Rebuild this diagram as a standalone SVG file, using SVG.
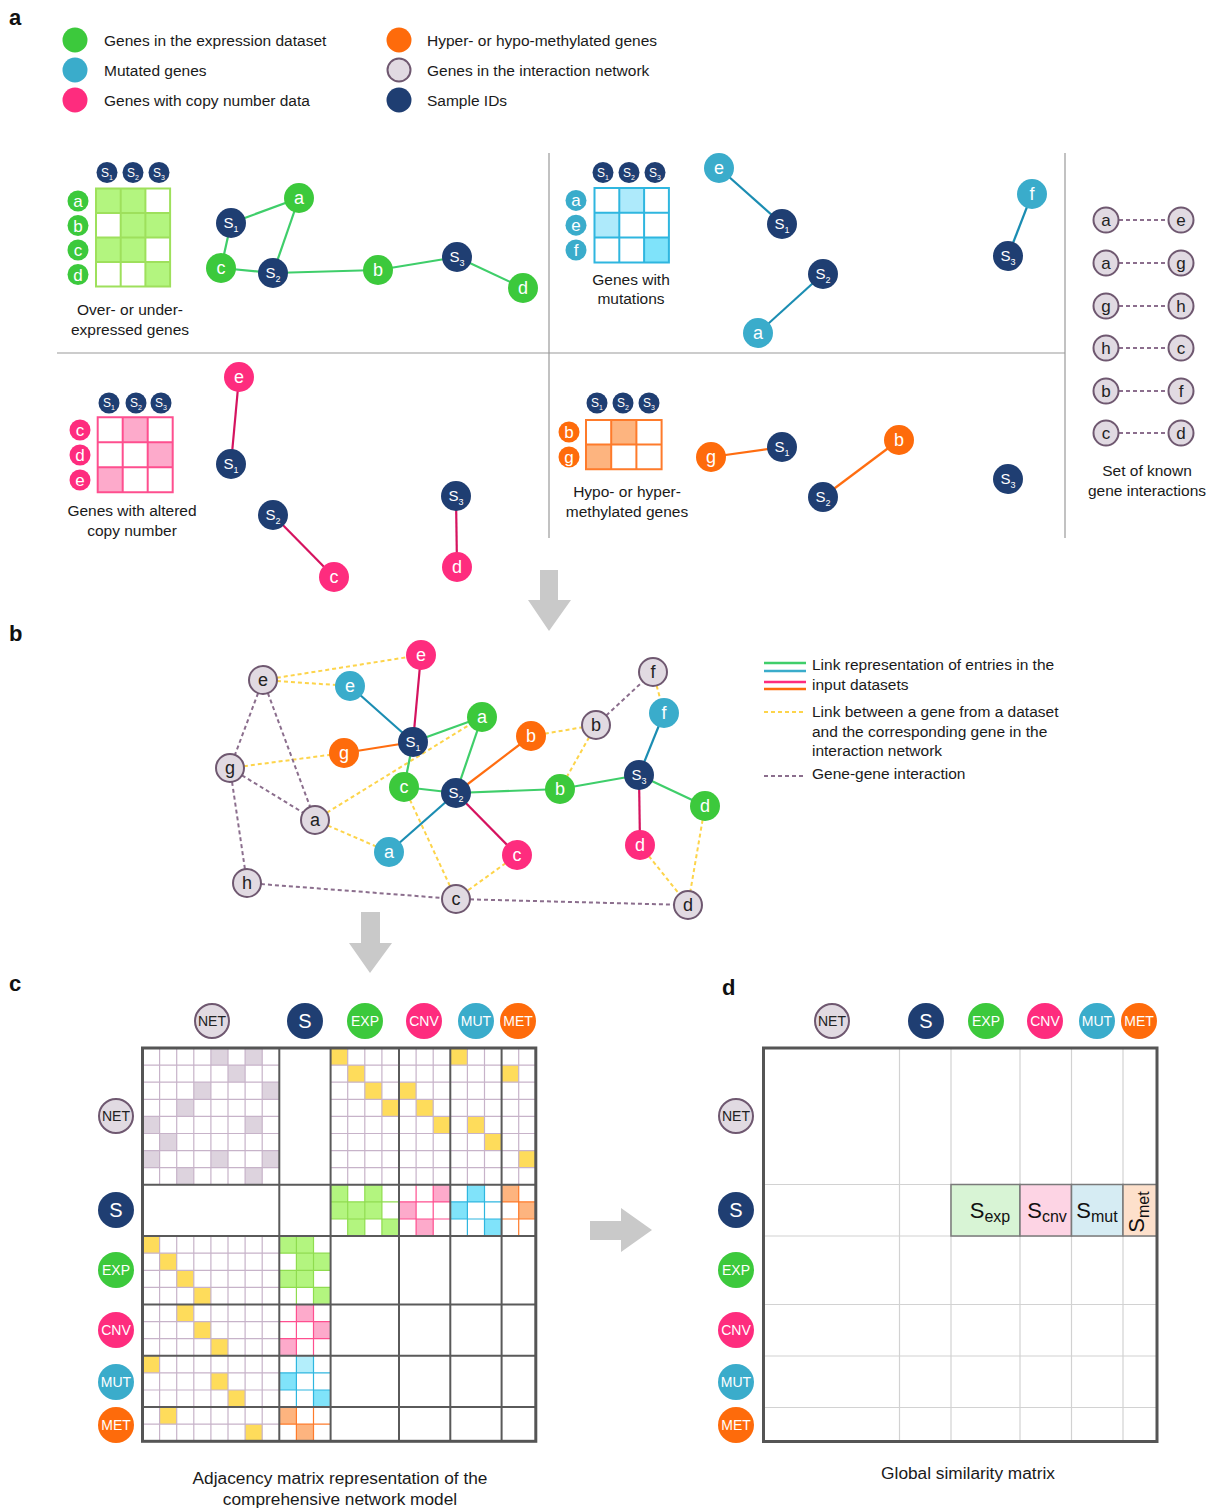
<svg xmlns="http://www.w3.org/2000/svg" width="1210" height="1509" viewBox="0 0 1210 1509">
<style>
text{font-family:"Liberation Sans",Arial,sans-serif}
.g{fill:#3cc93c}.b{fill:#3aaccb}.p{fill:#fe2c7e}.o{fill:#fe6b0b}.n{fill:#1f3e72}
.l{fill:#e1dae2;stroke:#6f5870;stroke-width:2}
.w{fill:#fff;text-anchor:middle}
.k{fill:#222;text-anchor:middle}
.t{fill:#1a1a1a;font-size:15.5px}
.c{fill:#1a1a1a;font-size:15.5px;text-anchor:middle}
.cb{fill:#1a1a1a;font-size:17.3px;text-anchor:middle}
.lab{font-weight:bold;font-size:22px;fill:#111}
.eg{stroke:#3fce6a;stroke-width:2.2;fill:none}
.eb{stroke:#1b8db2;stroke-width:2.2;fill:none}
.ep{stroke:#d5135f;stroke-width:2.2;fill:none}
.eo{stroke:#ff6d10;stroke-width:2.2;fill:none}
.ey{stroke:#fdd44a;stroke-width:2;stroke-dasharray:4 3;fill:none}
.eu{stroke:#8b6e8d;stroke-width:2;stroke-dasharray:4 3;fill:none}
.div{stroke:#999;stroke-width:1.2}
.arr{fill:#c9c9c9}
</style>

<!-- panel labels -->
<text class="lab" x="9" y="25">a</text>
<text class="lab" x="9" y="641">b</text>
<text class="lab" x="9" y="991">c</text>
<text class="lab" x="722" y="995">d</text>

<!-- top legend -->
<g id="legend-a">
<circle class="g" cx="75" cy="40" r="12.5"/><text class="t" x="104" y="46">Genes in the expression dataset</text>
<circle class="b" cx="75" cy="70" r="12.5"/><text class="t" x="104" y="76">Mutated genes</text>
<circle class="p" cx="75" cy="100" r="12.5"/><text class="t" x="104" y="106">Genes with copy number data</text>
<circle class="o" cx="399" cy="40" r="12.5"/><text class="t" x="427" y="46">Hyper- or hypo-methylated genes</text>
<circle class="l" cx="399" cy="70" r="11.5"/><text class="t" x="427" y="76">Genes in the interaction network</text>
<circle class="n" cx="399" cy="100" r="12.5"/><text class="t" x="427" y="106">Sample IDs</text>
</g>

<!-- panel a dividers -->
<g id="dividers">
<line class="div" x1="57" y1="353" x2="1065" y2="353"/>
<line class="div" x1="549" y1="153" x2="549" y2="538"/>
<line class="div" x1="1065" y1="153" x2="1065" y2="538"/>
</g>

<!-- EXP matrix -->
<g id="exp-matrix">
<g fill="#b3f57f">
<rect x="96" y="188.5" width="24.7" height="24.5"/><rect x="120.7" y="188.5" width="24.7" height="24.5"/>
<rect x="120.7" y="213" width="24.7" height="24.5"/><rect x="145.4" y="213" width="24.7" height="24.5"/>
<rect x="96" y="237.5" width="24.7" height="24.5"/><rect x="120.7" y="237.5" width="24.7" height="24.5"/>
<rect x="145.4" y="262" width="24.7" height="24.5"/>
</g>
<path d="M96 188.5H170.1V286.5H96Z M120.7 188.5V286.5 M145.4 188.5V286.5 M96 213H170.1 M96 237.5H170.1 M96 262H170.1" stroke="#9ee05c" stroke-width="2" fill="none"/>
<g font-size="12"><circle class="n" cx="107" cy="172.5" r="10.5"/><text class="w" x="107" y="176.5">S<tspan font-size="7" dy="3">1</tspan></text>
<circle class="n" cx="133" cy="172.5" r="10.5"/><text class="w" x="133" y="176.5">S<tspan font-size="7" dy="3">2</tspan></text>
<circle class="n" cx="159" cy="172.5" r="10.5"/><text class="w" x="159" y="176.5">S<tspan font-size="7" dy="3">3</tspan></text></g>
<g font-size="17"><circle class="g" cx="78" cy="201" r="10.5"/><text class="w" x="78" y="207">a</text>
<circle class="g" cx="78" cy="225.5" r="10.5"/><text class="w" x="78" y="231.5">b</text>
<circle class="g" cx="78" cy="250" r="10.5"/><text class="w" x="78" y="256">c</text>
<circle class="g" cx="78" cy="274.5" r="10.5"/><text class="w" x="78" y="280.5">d</text></g>
<text class="c" x="130" y="315">Over- or under-</text>
<text class="c" x="130" y="335">expressed genes</text>
</g>

<!-- MUT matrix -->
<g id="mut-matrix">
<rect x="619.3" y="188" width="24.8" height="24.8" fill="#aeeafb"/>
<rect x="594.5" y="212.8" width="24.8" height="24.8" fill="#aeeafb"/>
<rect x="644.1" y="237.6" width="24.8" height="24.8" fill="#7fe3fa"/>
<path d="M594.5 188H668.9V262.4H594.5Z M619.3 188V262.4 M644.1 188V262.4 M594.5 212.8H668.9 M594.5 237.6H668.9" stroke="#2fb6df" stroke-width="2" fill="none"/>
<g font-size="12"><circle class="n" cx="603" cy="172.5" r="10.5"/><text class="w" x="603" y="176.5">S<tspan font-size="7" dy="3">1</tspan></text>
<circle class="n" cx="629" cy="172.5" r="10.5"/><text class="w" x="629" y="176.5">S<tspan font-size="7" dy="3">2</tspan></text>
<circle class="n" cx="655" cy="172.5" r="10.5"/><text class="w" x="655" y="176.5">S<tspan font-size="7" dy="3">3</tspan></text></g>
<g font-size="17"><circle class="b" cx="576" cy="200.4" r="10.5"/><text class="w" x="576" y="206.4">a</text>
<circle class="b" cx="576" cy="225.2" r="10.5"/><text class="w" x="576" y="231.2">e</text>
<circle class="b" cx="576" cy="250" r="10.5"/><text class="w" x="576" y="256">f</text></g>
<text class="c" x="631" y="285">Genes with</text>
<text class="c" x="631" y="304">mutations</text>
</g>

<!-- CNV matrix -->
<g id="cnv-matrix">
<rect x="122.7" y="417.3" width="25" height="25" fill="#fdaacb"/>
<rect x="147.7" y="442.3" width="25" height="25" fill="#fdaacb"/>
<rect x="97.7" y="467.3" width="25" height="25" fill="#fdaacb"/>
<path d="M97.7 417.3H172.7V492.3H97.7Z M122.7 417.3V492.3 M147.7 417.3V492.3 M97.7 442.3H172.7 M97.7 467.3H172.7" stroke="#fe4f8f" stroke-width="2" fill="none"/>
<g font-size="12"><circle class="n" cx="109" cy="403" r="10.5"/><text class="w" x="109" y="407">S<tspan font-size="7" dy="3">1</tspan></text>
<circle class="n" cx="136" cy="403" r="10.5"/><text class="w" x="136" y="407">S<tspan font-size="7" dy="3">2</tspan></text>
<circle class="n" cx="161" cy="403" r="10.5"/><text class="w" x="161" y="407">S<tspan font-size="7" dy="3">3</tspan></text></g>
<g font-size="17"><circle class="p" cx="80" cy="430" r="10.5"/><text class="w" x="80" y="436">c</text>
<circle class="p" cx="80" cy="455" r="10.5"/><text class="w" x="80" y="461">d</text>
<circle class="p" cx="80" cy="480" r="10.5"/><text class="w" x="80" y="486">e</text></g>
<text class="c" x="132" y="516">Genes with altered</text>
<text class="c" x="132" y="536">copy number</text>
</g>

<!-- MET matrix -->
<g id="met-matrix">
<rect x="611.2" y="420" width="25.2" height="24.6" fill="#fdb47f"/>
<rect x="586" y="444.6" width="25.2" height="24.6" fill="#fdb47f"/>
<path d="M586 420H661.6V469.2H586Z M611.2 420V469.2 M636.4 420V469.2 M586 444.6H661.6" stroke="#fe7b2b" stroke-width="2" fill="none"/>
<g font-size="12"><circle class="n" cx="597" cy="403" r="10.5"/><text class="w" x="597" y="407">S<tspan font-size="7" dy="3">1</tspan></text>
<circle class="n" cx="623" cy="403" r="10.5"/><text class="w" x="623" y="407">S<tspan font-size="7" dy="3">2</tspan></text>
<circle class="n" cx="649" cy="403" r="10.5"/><text class="w" x="649" y="407">S<tspan font-size="7" dy="3">3</tspan></text></g>
<g font-size="17"><circle class="o" cx="569" cy="432" r="10.5"/><text class="w" x="569" y="438">b</text>
<circle class="o" cx="569" cy="457" r="10.5"/><text class="w" x="569" y="463">g</text></g>
<text class="c" x="627" y="497">Hypo- or hyper-</text>
<text class="c" x="627" y="517">methylated genes</text>
</g>

<!-- panel a connectors -->
<g id="connectors-a">
<line class="eg" x1="231" y1="223" x2="299" y2="198"/>
<line class="eg" x1="231" y1="223" x2="221" y2="268"/>
<line class="eg" x1="299" y1="198" x2="273" y2="273"/>
<line class="eg" x1="221" y1="268" x2="273" y2="273"/>
<line class="eg" x1="273" y1="273" x2="378" y2="270"/>
<line class="eg" x1="378" y1="270" x2="457" y2="257"/>
<line class="eg" x1="457" y1="257" x2="523" y2="288"/>
<line class="eb" x1="719" y1="168" x2="782" y2="224"/>
<line class="eb" x1="823" y1="274" x2="758" y2="333"/>
<line class="eb" x1="1032" y1="194" x2="1008" y2="256"/>
<line class="ep" x1="239" y1="377" x2="231" y2="464"/>
<line class="ep" x1="273" y1="515" x2="334" y2="577"/>
<line class="ep" x1="456" y1="496" x2="457" y2="567"/>
<line class="eo" x1="711" y1="457" x2="782" y2="447"/>
<line class="eo" x1="823" y1="497" x2="899" y2="440"/>
<g class="eu"><line x1="1119" y1="220" x2="1168" y2="220"/><line x1="1119" y1="263" x2="1168" y2="263"/><line x1="1119" y1="306" x2="1168" y2="306"/><line x1="1119" y1="348" x2="1168" y2="348"/><line x1="1119" y1="391" x2="1168" y2="391"/><line x1="1119" y1="433" x2="1168" y2="433"/></g>
</g>

<!-- panel a network nodes -->
<g id="nodes-a" font-size="18">
<g id="a-exp-S1"><circle class="n" cx="231" cy="223" r="15"/><text class="w" x="231" y="228" font-size="15">S<tspan font-size="9" dy="4">1</tspan></text></g>
<g id="a-exp-a"><circle class="g" cx="299" cy="198" r="15"/><text class="w" x="299" y="204">a</text></g>
<g id="a-exp-c"><circle class="g" cx="221" cy="268" r="15"/><text class="w" x="221" y="274">c</text></g>
<g id="a-exp-S2"><circle class="n" cx="273" cy="273" r="15"/><text class="w" x="273" y="278" font-size="15">S<tspan font-size="9" dy="4">2</tspan></text></g>
<g id="a-exp-b"><circle class="g" cx="378" cy="270" r="15"/><text class="w" x="378" y="276">b</text></g>
<g id="a-exp-S3"><circle class="n" cx="457" cy="257" r="15"/><text class="w" x="457" y="262" font-size="15">S<tspan font-size="9" dy="4">3</tspan></text></g>
<g id="a-exp-d"><circle class="g" cx="523" cy="288" r="15"/><text class="w" x="523" y="294">d</text></g>

<g id="a-mut-e"><circle class="b" cx="719" cy="168" r="15"/><text class="w" x="719" y="174">e</text></g>
<g id="a-mut-S1"><circle class="n" cx="782" cy="224" r="15"/><text class="w" x="782" y="229" font-size="15">S<tspan font-size="9" dy="4">1</tspan></text></g>
<g id="a-mut-S2"><circle class="n" cx="823" cy="274" r="15"/><text class="w" x="823" y="279" font-size="15">S<tspan font-size="9" dy="4">2</tspan></text></g>
<g id="a-mut-a"><circle class="b" cx="758" cy="333" r="15"/><text class="w" x="758" y="339">a</text></g>
<g id="a-mut-f"><circle class="b" cx="1032" cy="194" r="15"/><text class="w" x="1032" y="200">f</text></g>
<g id="a-mut-S3"><circle class="n" cx="1008" cy="256" r="15"/><text class="w" x="1008" y="261" font-size="15">S<tspan font-size="9" dy="4">3</tspan></text></g>

<g id="a-cnv-e"><circle class="p" cx="239" cy="377" r="15"/><text class="w" x="239" y="383">e</text></g>
<g id="a-cnv-S1"><circle class="n" cx="231" cy="464" r="15"/><text class="w" x="231" y="469" font-size="15">S<tspan font-size="9" dy="4">1</tspan></text></g>
<g id="a-cnv-S2"><circle class="n" cx="273" cy="515" r="15"/><text class="w" x="273" y="520" font-size="15">S<tspan font-size="9" dy="4">2</tspan></text></g>
<g id="a-cnv-c"><circle class="p" cx="334" cy="577" r="15"/><text class="w" x="334" y="583">c</text></g>
<g id="a-cnv-S3"><circle class="n" cx="456" cy="496" r="15"/><text class="w" x="456" y="501" font-size="15">S<tspan font-size="9" dy="4">3</tspan></text></g>
<g id="a-cnv-d"><circle class="p" cx="457" cy="567" r="15"/><text class="w" x="457" y="573">d</text></g>

<g id="a-met-g"><circle class="o" cx="711" cy="457" r="15"/><text class="w" x="711" y="463">g</text></g>
<g id="a-met-S1"><circle class="n" cx="782" cy="447" r="15"/><text class="w" x="782" y="452" font-size="15">S<tspan font-size="9" dy="4">1</tspan></text></g>
<g id="a-met-b"><circle class="o" cx="899" cy="440" r="15"/><text class="w" x="899" y="446">b</text></g>
<g id="a-met-S2"><circle class="n" cx="823" cy="497" r="15"/><text class="w" x="823" y="502" font-size="15">S<tspan font-size="9" dy="4">2</tspan></text></g>
<g id="a-met-S3"><circle class="n" cx="1008" cy="479" r="15"/><text class="w" x="1008" y="484" font-size="15">S<tspan font-size="9" dy="4">3</tspan></text></g>
</g>

<!-- known interactions -->
<g id="known-interactions" font-size="17">
<circle class="l" cx="1106" cy="220" r="12.5"/><text class="k" x="1106" y="226">a</text><circle class="l" cx="1181" cy="220" r="12.5"/><text class="k" x="1181" y="226">e</text>
<circle class="l" cx="1106" cy="263" r="12.5"/><text class="k" x="1106" y="269">a</text><circle class="l" cx="1181" cy="263" r="12.5"/><text class="k" x="1181" y="269">g</text>
<circle class="l" cx="1106" cy="306" r="12.5"/><text class="k" x="1106" y="312">g</text><circle class="l" cx="1181" cy="306" r="12.5"/><text class="k" x="1181" y="312">h</text>
<circle class="l" cx="1106" cy="348" r="12.5"/><text class="k" x="1106" y="354">h</text><circle class="l" cx="1181" cy="348" r="12.5"/><text class="k" x="1181" y="354">c</text>
<circle class="l" cx="1106" cy="391" r="12.5"/><text class="k" x="1106" y="397">b</text><circle class="l" cx="1181" cy="391" r="12.5"/><text class="k" x="1181" y="397">f</text>
<circle class="l" cx="1106" cy="433" r="12.5"/><text class="k" x="1106" y="439">c</text><circle class="l" cx="1181" cy="433" r="12.5"/><text class="k" x="1181" y="439">d</text>
<text class="c" x="1147" y="476">Set of known</text>
<text class="c" x="1147" y="496">gene interactions</text>
</g>

<!-- arrows -->
<g id="arrows">
<polygon class="arr" points="540,570 558,570 558,600 571,600 549,631 528,600 540,600"/>
<polygon class="arr" points="361,912 380,912 380,943 392,943 370,973 349,943 361,943"/>
<polygon class="arr" points="590,1221 621,1221 621,1208 652,1230 621,1252 621,1240 590,1240"/>
</g>

<!-- panel b connectors -->
<g id="connectors-b">
<line class="ey" x1="263" y1="680" x2="421" y2="655"/>
<line class="ey" x1="263" y1="680" x2="350" y2="686"/>
<line class="ey" x1="230" y1="768" x2="344" y2="753"/>
<line class="ey" x1="315" y1="820" x2="482" y2="717"/>
<line class="ey" x1="315" y1="820" x2="389" y2="852"/>
<line class="ey" x1="404" y1="787" x2="456" y2="899"/>
<line class="ey" x1="517" y1="855" x2="456" y2="899"/>
<line class="ey" x1="531" y1="736" x2="596" y2="725"/>
<line class="ey" x1="596" y1="725" x2="560" y2="789"/>
<line class="ey" x1="653" y1="672" x2="664" y2="713"/>
<line class="ey" x1="640" y1="845" x2="688" y2="905"/>
<line class="ey" x1="705" y1="806" x2="688" y2="905"/>
<line class="eu" x1="263" y1="680" x2="230" y2="768"/>
<line class="eu" x1="263" y1="680" x2="315" y2="820"/>
<line class="eu" x1="230" y1="768" x2="315" y2="820"/>
<line class="eu" x1="230" y1="768" x2="247" y2="883"/>
<line class="eu" x1="247" y1="883" x2="456" y2="899"/>
<line class="eu" x1="456" y1="899" x2="688" y2="905"/>
<line class="eu" x1="596" y1="725" x2="653" y2="672"/>
<line class="ep" x1="421" y1="655" x2="413" y2="742"/>
<line class="eb" x1="350" y1="686" x2="413" y2="742"/>
<line class="eo" x1="344" y1="753" x2="413" y2="742"/>
<line class="eg" x1="482" y1="717" x2="413" y2="742"/>
<line class="eg" x1="413" y1="742" x2="404" y2="787"/>
<line class="eg" x1="482" y1="717" x2="456" y2="793"/>
<line class="eg" x1="404" y1="787" x2="456" y2="793"/>
<line class="eo" x1="456" y1="793" x2="531" y2="736"/>
<line class="eg" x1="456" y1="793" x2="560" y2="789"/>
<line class="eb" x1="456" y1="793" x2="389" y2="852"/>
<line class="ep" x1="456" y1="793" x2="517" y2="855"/>
<line class="eg" x1="560" y1="789" x2="639" y2="775"/>
<line class="eb" x1="639" y1="775" x2="664" y2="713"/>
<line class="eg" x1="639" y1="775" x2="705" y2="806"/>
<line class="ep" x1="639" y1="775" x2="640" y2="845"/>
</g>

<!-- panel b nodes -->
<g id="nodes-b" font-size="18">
<g id="b-net-e"><circle class="l" cx="263" cy="680" r="14"/><text class="k" x="263" y="686">e</text></g>
<g id="b-cnv-e"><circle class="p" cx="421" cy="655" r="15"/><text class="w" x="421" y="661">e</text></g>
<g id="b-mut-e"><circle class="b" cx="350" cy="686" r="15"/><text class="w" x="350" y="692">e</text></g>
<g id="b-net-g"><circle class="l" cx="230" cy="768" r="14"/><text class="k" x="230" y="774">g</text></g>
<g id="b-met-g"><circle class="o" cx="344" cy="753" r="15"/><text class="w" x="344" y="759">g</text></g>
<g id="b-S1"><circle class="n" cx="413" cy="742" r="15"/><text class="w" x="413" y="747" font-size="15">S<tspan font-size="9" dy="4">1</tspan></text></g>
<g id="b-exp-a"><circle class="g" cx="482" cy="717" r="15"/><text class="w" x="482" y="723">a</text></g>
<g id="b-exp-c"><circle class="g" cx="404" cy="787" r="15"/><text class="w" x="404" y="793">c</text></g>
<g id="b-S2"><circle class="n" cx="456" cy="793" r="15"/><text class="w" x="456" y="798" font-size="15">S<tspan font-size="9" dy="4">2</tspan></text></g>
<g id="b-met-b"><circle class="o" cx="531" cy="736" r="15"/><text class="w" x="531" y="742">b</text></g>
<g id="b-net-b"><circle class="l" cx="596" cy="725" r="14"/><text class="k" x="596" y="731">b</text></g>
<g id="b-net-f"><circle class="l" cx="653" cy="672" r="14"/><text class="k" x="653" y="678">f</text></g>
<g id="b-mut-f"><circle class="b" cx="664" cy="713" r="15"/><text class="w" x="664" y="719">f</text></g>
<g id="b-S3"><circle class="n" cx="639" cy="775" r="15"/><text class="w" x="639" y="780" font-size="15">S<tspan font-size="9" dy="4">3</tspan></text></g>
<g id="b-exp-b"><circle class="g" cx="560" cy="789" r="15"/><text class="w" x="560" y="795">b</text></g>
<g id="b-exp-d"><circle class="g" cx="705" cy="806" r="15"/><text class="w" x="705" y="812">d</text></g>
<g id="b-cnv-d"><circle class="p" cx="640" cy="845" r="15"/><text class="w" x="640" y="851">d</text></g>
<g id="b-net-a"><circle class="l" cx="315" cy="820" r="14"/><text class="k" x="315" y="826">a</text></g>
<g id="b-mut-a"><circle class="b" cx="389" cy="852" r="15"/><text class="w" x="389" y="858">a</text></g>
<g id="b-cnv-c"><circle class="p" cx="517" cy="855" r="15"/><text class="w" x="517" y="861">c</text></g>
<g id="b-net-h"><circle class="l" cx="247" cy="883" r="14"/><text class="k" x="247" y="889">h</text></g>
<g id="b-net-c"><circle class="l" cx="456" cy="899" r="14"/><text class="k" x="456" y="905">c</text></g>
<g id="b-net-d"><circle class="l" cx="688" cy="905" r="14"/><text class="k" x="688" y="911">d</text></g>
</g>

<!-- panel b legend -->
<g id="legend-b">
<line x1="764" y1="663" x2="806" y2="663" stroke="#3fce6a" stroke-width="2.5"/>
<line x1="764" y1="671" x2="806" y2="671" stroke="#3aaccb" stroke-width="2.5"/>
<line x1="764" y1="682" x2="806" y2="682" stroke="#fe2c7e" stroke-width="2.5"/>
<line x1="764" y1="689" x2="806" y2="689" stroke="#fe6b0b" stroke-width="2.5"/>
<text class="t" x="812" y="670">Link representation of entries in the</text>
<text class="t" x="812" y="690">input datasets</text>
<line class="ey" x1="764" y1="712" x2="806" y2="712"/>
<text class="t" x="812" y="717">Link between a gene from a dataset</text>
<text class="t" x="812" y="737">and the corresponding gene in the</text>
<text class="t" x="812" y="756">interaction network</text>
<line class="eu" x1="764" y1="776" x2="806" y2="776"/>
<text class="t" x="812" y="779">Gene-gene interaction</text>
</g>

<!-- panel c headers -->
<g id="headers-c" font-size="14">
<g><circle class="l" cx="212" cy="1021" r="17"/><text class="k" x="212" y="1026">NET</text></g>
<g><circle class="n" cx="305" cy="1021" r="18"/><text class="w" x="305" y="1028" font-size="20">S</text></g>
<g><circle class="g" cx="365" cy="1021" r="18"/><text class="w" x="365" y="1026">EXP</text></g>
<g><circle class="p" cx="424" cy="1021" r="18"/><text class="w" x="424" y="1026">CNV</text></g>
<g><circle class="b" cx="476" cy="1021" r="18"/><text class="w" x="476" y="1026">MUT</text></g>
<g><circle class="o" cx="518" cy="1021" r="18"/><text class="w" x="518" y="1026">MET</text></g>
<g><circle class="l" cx="116" cy="1116" r="17"/><text class="k" x="116" y="1121">NET</text></g>
<g><circle class="n" cx="116" cy="1210" r="18"/><text class="w" x="116" y="1217" font-size="20">S</text></g>
<g><circle class="g" cx="116" cy="1270" r="18"/><text class="w" x="116" y="1275">EXP</text></g>
<g><circle class="p" cx="116" cy="1330" r="18"/><text class="w" x="116" y="1335">CNV</text></g>
<g><circle class="b" cx="116" cy="1382" r="18"/><text class="w" x="116" y="1387">MUT</text></g>
<g><circle class="o" cx="116" cy="1425" r="18"/><text class="w" x="116" y="1430">MET</text></g>
</g>

<!-- panel c matrix -->
<g id="adjacency-matrix">
<rect x="142.5" y="1048" width="393.3" height="393.3" fill="#fff"/>
<g fill="#ddd3de">
<rect x="210.9" y="1048" width="17.1" height="17.1"/><rect x="245.1" y="1048" width="17.1" height="17.1"/>
<rect x="228" y="1065.1" width="17.1" height="17.1"/>
<rect x="193.8" y="1082.2" width="17.1" height="17.1"/><rect x="262.2" y="1082.2" width="17.1" height="17.1"/>
<rect x="176.7" y="1099.3" width="17.1" height="17.1"/>
<rect x="142.5" y="1116.4" width="17.1" height="17.1"/><rect x="245.1" y="1116.4" width="17.1" height="17.1"/>
<rect x="159.6" y="1133.5" width="17.1" height="17.1"/>
<rect x="142.5" y="1150.6" width="17.1" height="17.1"/><rect x="210.9" y="1150.6" width="17.1" height="17.1"/><rect x="262.2" y="1150.6" width="17.1" height="17.1"/>
<rect x="176.7" y="1167.7" width="17.1" height="17.1"/><rect x="245.1" y="1167.7" width="17.1" height="17.1"/>
</g>
<g fill="#fedc5b">
<rect x="330.6" y="1048" width="17.1" height="17.1"/><rect x="347.7" y="1065.1" width="17.1" height="17.1"/><rect x="364.8" y="1082.2" width="17.1" height="17.1"/><rect x="381.9" y="1099.3" width="17.1" height="17.1"/>
<rect x="399" y="1082.2" width="17.1" height="17.1"/><rect x="416.1" y="1099.3" width="17.1" height="17.1"/><rect x="433.2" y="1116.4" width="17.1" height="17.1"/>
<rect x="450.3" y="1048" width="17.1" height="17.1"/><rect x="467.4" y="1116.4" width="17.1" height="17.1"/><rect x="484.5" y="1133.5" width="17.1" height="17.1"/>
<rect x="501.6" y="1065.1" width="17.1" height="17.1"/><rect x="518.7" y="1150.6" width="17.1" height="17.1"/>
<rect x="142.5" y="1236.1" width="17.1" height="17.1"/><rect x="159.6" y="1253.2" width="17.1" height="17.1"/><rect x="176.7" y="1270.3" width="17.1" height="17.1"/><rect x="193.8" y="1287.4" width="17.1" height="17.1"/>
<rect x="176.7" y="1304.5" width="17.1" height="17.1"/><rect x="193.8" y="1321.6" width="17.1" height="17.1"/><rect x="210.9" y="1338.7" width="17.1" height="17.1"/>
<rect x="142.5" y="1355.8" width="17.1" height="17.1"/><rect x="210.9" y="1372.9" width="17.1" height="17.1"/><rect x="228" y="1390" width="17.1" height="17.1"/>
<rect x="159.6" y="1407.1" width="17.1" height="17.1"/><rect x="245.1" y="1424.2" width="17.1" height="17.1"/>
</g>
<g fill="#b3f57f">
<rect x="330.6" y="1184.8" width="17.1" height="17.1"/><rect x="364.8" y="1184.8" width="17.1" height="17.1"/>
<rect x="330.6" y="1201.9" width="17.1" height="17.1"/><rect x="347.7" y="1201.9" width="17.1" height="17.1"/><rect x="364.8" y="1201.9" width="17.1" height="17.1"/>
<rect x="347.7" y="1219" width="17.1" height="17.1"/><rect x="381.9" y="1219" width="17.1" height="17.1"/>
<rect x="279.3" y="1236.1" width="17.1" height="17.1"/><rect x="296.4" y="1236.1" width="17.1" height="17.1"/>
<rect x="296.4" y="1253.2" width="17.1" height="17.1"/><rect x="313.5" y="1253.2" width="17.1" height="17.1"/>
<rect x="279.3" y="1270.3" width="17.1" height="17.1"/><rect x="296.4" y="1270.3" width="17.1" height="17.1"/>
<rect x="313.5" y="1287.4" width="17.1" height="17.1"/>
</g>
<g fill="#fdaacb">
<rect x="433.2" y="1184.8" width="17.1" height="17.1"/><rect x="399" y="1201.9" width="17.1" height="17.1"/><rect x="416.1" y="1219" width="17.1" height="17.1"/>
<rect x="296.4" y="1304.5" width="17.1" height="17.1"/><rect x="313.5" y="1321.6" width="17.1" height="17.1"/><rect x="279.3" y="1338.7" width="17.1" height="17.1"/>
</g>
<g fill="#80e3fa">
<rect x="467.4" y="1184.8" width="17.1" height="17.1"/><rect x="450.3" y="1201.9" width="17.1" height="17.1"/><rect x="484.5" y="1219" width="17.1" height="17.1"/>
<rect x="279.3" y="1372.9" width="17.1" height="17.1"/><rect x="313.5" y="1390" width="17.1" height="17.1"/>
</g>
<rect x="296.4" y="1355.8" width="17.1" height="17.1" fill="#b3eefb"/>
<g fill="#fdb47f">
<rect x="501.6" y="1184.8" width="17.1" height="17.1"/><rect x="518.7" y="1201.9" width="17.1" height="17.1"/>
<rect x="279.3" y="1407.1" width="17.1" height="17.1"/><rect x="296.4" y="1424.2" width="17.1" height="17.1"/>
</g>
<path stroke="#c7b3c9" stroke-width="1.2" fill="none" d="M159.6 1048V1184.8M176.7 1048V1184.8M193.8 1048V1184.8M210.9 1048V1184.8M228 1048V1184.8M245.1 1048V1184.8M262.2 1048V1184.8
M159.6 1236.1V1441.3M176.7 1236.1V1441.3M193.8 1236.1V1441.3M210.9 1236.1V1441.3M228 1236.1V1441.3M245.1 1236.1V1441.3M262.2 1236.1V1441.3
M347.7 1048V1184.8M364.8 1048V1184.8M381.9 1048V1184.8M416.1 1048V1184.8M433.2 1048V1184.8M467.4 1048V1184.8M484.5 1048V1184.8M518.7 1048V1184.8
M142.5 1065.1H279.3M142.5 1082.2H279.3M142.5 1099.3H279.3M142.5 1116.4H279.3M142.5 1133.5H279.3M142.5 1150.6H279.3M142.5 1167.7H279.3
M330.6 1065.1H535.8M330.6 1082.2H535.8M330.6 1099.3H535.8M330.6 1116.4H535.8M330.6 1133.5H535.8M330.6 1150.6H535.8M330.6 1167.7H535.8
M142.5 1253.2H279.3M142.5 1270.3H279.3M142.5 1287.4H279.3M142.5 1321.6H279.3M142.5 1338.7H279.3M142.5 1372.9H279.3M142.5 1390H279.3M142.5 1424.2H279.3"/>
<path stroke="#8fdc4f" stroke-width="1.2" fill="none" d="M347.7 1184.8V1236.1M364.8 1184.8V1236.1M381.9 1184.8V1236.1M330.6 1201.9H399M330.6 1219H399
M296.4 1236.1V1304.5M313.5 1236.1V1304.5M279.3 1253.2H330.6M279.3 1270.3H330.6M279.3 1287.4H330.6"/>
<path stroke="#fe4f8f" stroke-width="1.2" fill="none" d="M416.1 1184.8V1236.1M433.2 1184.8V1236.1M399 1201.9H450.3M399 1219H450.3
M296.4 1304.5V1355.8M313.5 1304.5V1355.8M279.3 1321.6H330.6M279.3 1338.7H330.6"/>
<path stroke="#2fb6df" stroke-width="1.2" fill="none" d="M467.4 1184.8V1236.1M484.5 1184.8V1236.1M450.3 1201.9H501.6M450.3 1219H501.6
M296.4 1355.8V1407.1M313.5 1355.8V1407.1M279.3 1372.9H330.6M279.3 1390H330.6"/>
<path stroke="#fe7b2b" stroke-width="1.2" fill="none" d="M518.7 1184.8V1236.1M501.6 1201.9H535.8M501.6 1219H535.8
M296.4 1407.1V1441.3M313.5 1407.1V1441.3M279.3 1424.2H330.6"/>
<path stroke="#5a5a5a" stroke-width="2" fill="none" d="M279.3 1048V1441.3M330.6 1048V1441.3M399 1048V1441.3M450.3 1048V1441.3M501.6 1048V1441.3
M142.5 1184.8H535.8M142.5 1236.1H535.8M142.5 1304.5H535.8M142.5 1355.8H535.8M142.5 1407.1H535.8"/>
<rect x="142.5" y="1048" width="393.3" height="393.3" fill="none" stroke="#555" stroke-width="3"/>
</g>
<text class="cb" x="340" y="1484">Adjacency matrix representation of the</text>
<text class="cb" x="340" y="1505">comprehensive network model</text>

<!-- panel d headers -->
<g id="headers-d" font-size="14">
<g><circle class="l" cx="832" cy="1021" r="17"/><text class="k" x="832" y="1026">NET</text></g>
<g><circle class="n" cx="926" cy="1021" r="18"/><text class="w" x="926" y="1028" font-size="20">S</text></g>
<g><circle class="g" cx="986" cy="1021" r="18"/><text class="w" x="986" y="1026">EXP</text></g>
<g><circle class="p" cx="1045" cy="1021" r="18"/><text class="w" x="1045" y="1026">CNV</text></g>
<g><circle class="b" cx="1097" cy="1021" r="18"/><text class="w" x="1097" y="1026">MUT</text></g>
<g><circle class="o" cx="1139" cy="1021" r="18"/><text class="w" x="1139" y="1026">MET</text></g>
<g><circle class="l" cx="736" cy="1116" r="17"/><text class="k" x="736" y="1121">NET</text></g>
<g><circle class="n" cx="736" cy="1210" r="18"/><text class="w" x="736" y="1217" font-size="20">S</text></g>
<g><circle class="g" cx="736" cy="1270" r="18"/><text class="w" x="736" y="1275">EXP</text></g>
<g><circle class="p" cx="736" cy="1330" r="18"/><text class="w" x="736" y="1335">CNV</text></g>
<g><circle class="b" cx="736" cy="1382" r="18"/><text class="w" x="736" y="1387">MUT</text></g>
<g><circle class="o" cx="736" cy="1425" r="18"/><text class="w" x="736" y="1430">MET</text></g>
</g>

<!-- panel d matrix -->
<g id="similarity-matrix">
<rect x="763.5" y="1048" width="393.5" height="393.5" fill="#fff"/>
<path stroke="#d2d2d2" stroke-width="1.2" fill="none" d="M899.5 1048V1441.5M951 1048V1441.5M1020 1048V1441.5M1071.5 1048V1441.5M1123 1048V1441.5
M763.5 1184.5H1157M763.5 1236H1157M763.5 1304.5H1157M763.5 1356H1157M763.5 1407.5H1157"/>
<g stroke="#7a7a7a" stroke-width="1.5">
<rect x="951" y="1184.5" width="69" height="51.5" fill="#d8f4d5"/>
<rect x="1020" y="1184.5" width="51.5" height="51.5" fill="#fdd4e4"/>
<rect x="1071.5" y="1184.5" width="51.5" height="51.5" fill="#d6ecf3"/>
<rect x="1123" y="1184.5" width="34" height="51.5" fill="#fde0cb"/>
</g>
<text x="990" y="1218" text-anchor="middle" font-size="22" fill="#111">S<tspan font-size="16" dy="4">exp</tspan></text>
<text x="1047" y="1218" text-anchor="middle" font-size="22" fill="#111">S<tspan font-size="16" dy="4">cnv</tspan></text>
<text x="1097" y="1218" text-anchor="middle" font-size="22" fill="#111">S<tspan font-size="16" dy="4">mut</tspan></text>
<text transform="translate(1144,1212) rotate(-90)" text-anchor="middle" font-size="22" fill="#111">S<tspan font-size="16" dy="5">met</tspan></text>
<rect x="763.5" y="1048" width="393.5" height="393.5" fill="none" stroke="#555" stroke-width="3"/>
</g>
<text class="cb" x="968" y="1479">Global similarity matrix</text>
</svg>
